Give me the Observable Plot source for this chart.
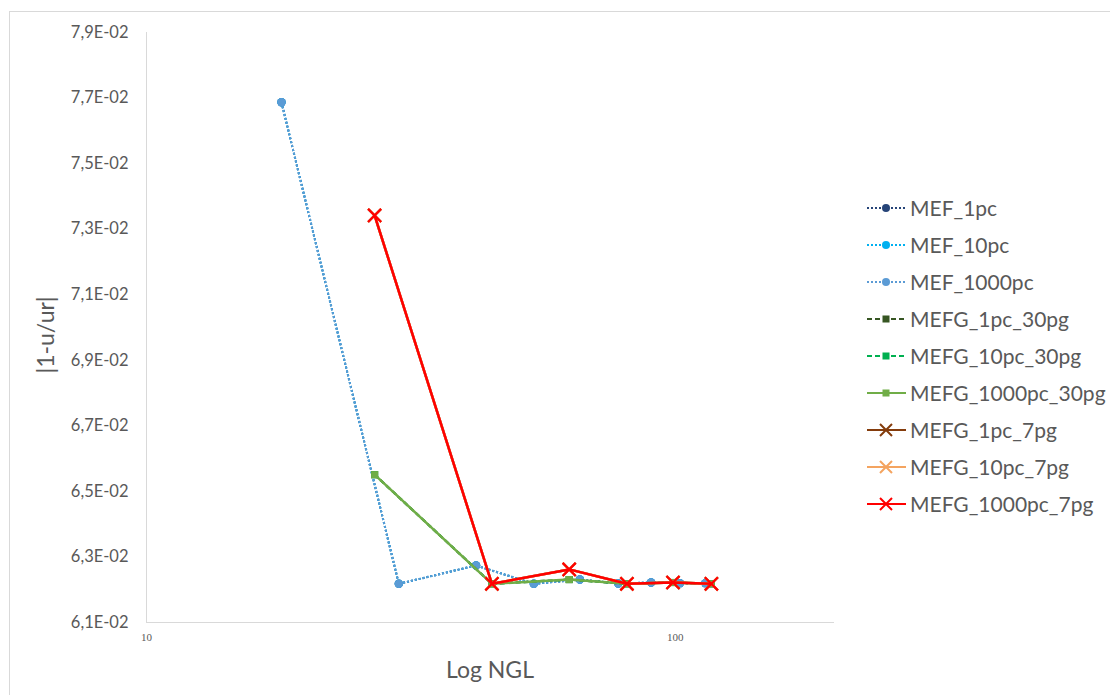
<!DOCTYPE html>
<html>
<head>
<meta charset="utf-8">
<script src="https://cdn.jsdelivr.net/npm/d3@7"></script>
<script src="https://cdn.jsdelivr.net/npm/@observablehq/plot@0.6"></script>
<style>
  html, body { margin: 0; padding: 0; background: #fff; }
  #wrap { position: relative; width: 1110px; height: 695px; overflow: hidden; font-family: Lato, "Open Sans", sans-serif; }
  #frame { position: absolute; left: 9px; top: 11px; width: 1120px; height: 720px; border: 1px solid #D9D9D9; box-sizing: border-box; }
  #chart { position: absolute; left: 0; top: 0; }
  .title { position: absolute; color: #595959; font-size: 23px; white-space: nowrap; }
  #ytitle { left: 45px; top: 335px; transform: translate(-50%, -50%) rotate(-90deg); }
  #xtitle { left: 490px; top: 669px; transform: translate(-50%, -50%); }
  #legend { position: absolute; left: 866px; top: 189px; }
  .row { display: flex; align-items: center; height: 37px; }
  .row span { color: #595959; font-size: 21px; margin-left: 3px; white-space: nowrap; }
</style>
</head>
<body>
<div id="wrap">
  <div id="frame"></div>
  <div id="chart"></div>
  <div class="title" id="ytitle">|1-u/ur|</div>
  <div class="title" id="xtitle">Log NGL</div>
  <div id="legend"></div>
</div>
<script>
// ---- data ----
const nglMEF = [18, 30, 42, 54, 66, 78, 90, 102, 114];
const nglMEFG = [27, 45, 63, 81, 99, 117];
const errMEF_1pc    = [0.07687, 0.06218, 0.06274, 0.06218, 0.06231, 0.06219, 0.06222, 0.06220, 0.06220];
const errMEF_10pc   = [0.07687, 0.06218, 0.06274, 0.06218, 0.06231, 0.06219, 0.06222, 0.06220, 0.06220];
const errMEF_1000pc = [0.07687, 0.06218, 0.06274, 0.06218, 0.06231, 0.06219, 0.06222, 0.06220, 0.06220];
const errMEFG_1pc_30pg    = [0.06551, 0.06218, 0.06231, 0.06218, 0.06222, 0.06218];
const errMEFG_10pc_30pg   = [0.06551, 0.06218, 0.06231, 0.06218, 0.06222, 0.06218];
const errMEFG_1000pc_30pg = [0.06551, 0.06218, 0.06231, 0.06218, 0.06222, 0.06218];
const errMEFG_1pc_7pg     = [0.07342, 0.06218, 0.06262, 0.06218, 0.06222, 0.06218];
const errMEFG_10pc_7pg    = [0.07342, 0.06218, 0.06262, 0.06218, 0.06222, 0.06218];
const errMEFG_1000pc_7pg  = [0.07342, 0.06218, 0.06262, 0.06218, 0.06222, 0.06218];
const seriesNames = ["MEF_1pc", "MEF_10pc", "MEF_1000pc", "MEFG_1pc_30pg", "MEFG_10pc_30pg", "MEFG_1000pc_30pg", "MEFG_1pc_7pg", "MEFG_10pc_7pg", "MEFG_1000pc_7pg"];
const yTicks = [0.061, 0.063, 0.065, 0.067, 0.069, 0.071, 0.073, 0.075, 0.077, 0.079];
const xTicks = [10, 100];

// ---- styles ----
const styles = [
  {x: nglMEF, y: errMEF_1pc, color: "#264478", dash: "2 2", width: 2, symbol: "circle"},
  {x: nglMEF, y: errMEF_10pc, color: "#00B0F0", dash: "2 2", width: 2, symbol: "circle"},
  {x: nglMEF, y: errMEF_1000pc, color: "#5B9BD5", dash: "2 2", width: 2, symbol: "circle"},
  {x: nglMEFG, y: errMEFG_1pc_30pg, color: "#375623", dash: "5 3", width: 2.2, symbol: "square"},
  {x: nglMEFG, y: errMEFG_10pc_30pg, color: "#00B050", dash: "5 3", width: 2.2, symbol: "square"},
  {x: nglMEFG, y: errMEFG_1000pc_30pg, color: "#70AD47", dash: null, width: 2.5, symbol: "square"},
  {x: nglMEFG, y: errMEFG_1pc_7pg, color: "#843C0C", dash: null, width: 2.5, symbol: "times"},
  {x: nglMEFG, y: errMEFG_10pc_7pg, color: "#F4A460", dash: null, width: 2.5, symbol: "times"},
  {x: nglMEFG, y: errMEFG_1000pc_7pg, color: "#FF0000", dash: null, width: 2.5, symbol: "times"}
];

const fmt = d => {
  const [m, e] = d.toExponential(1).split("e");
  const ev = +e;
  return m.replace(".", ",") + "E" + (ev < 0 ? "-" : "+") + String(Math.abs(ev)).padStart(2, "0");
};

const marks = [
  Plot.ruleX([10], {stroke: "#D9D9D9", strokeWidth: 1}),
  Plot.ruleY([0.061], {stroke: "#D9D9D9", strokeWidth: 1}),
  Plot.axisY(yTicks, {tickSize: 0, tickPadding: 18, tickFormat: fmt, fontSize: 16.5, fill: "#595959", fontFamily: "Lato, sans-serif", label: null}),
  Plot.axisX(xTicks, {tickSize: 0, tickPadding: 11, tickFormat: d => String(d), fontSize: 11, fill: "#595959", fontFamily: "'Liberation Serif', 'DejaVu Serif', serif", label: null})
];

styles.forEach((s, i) => {
  const rows = s.x.map((x, j) => ({ngl: x, err: s.y[j], series: seriesNames[i]}));
  marks.push(Plot.line(rows, {x: "ngl", y: "err", stroke: s.color, strokeWidth: s.width, strokeDasharray: s.dash || undefined, strokeLinecap: "butt"}));
  if (s.symbol === "times") {
    marks.push(Plot.dot(rows, {x: "ngl", y: "err", symbol: "times", r: 6, stroke: s.color, strokeWidth: 2.2}));
  } else if (s.symbol === "square") {
    marks.push(Plot.dot(rows, {x: "ngl", y: "err", symbol: "square", r: 4, fill: s.color, stroke: "none"}));
  } else {
    marks.push(Plot.dot(rows, {x: "ngl", y: "err", symbol: "circle", r: 4.2, fill: s.color, stroke: "none"}));
  }
});

const chart = Plot.plot({
  width: 1110,
  height: 695,
  marginLeft: 146,
  marginRight: 276,
  marginTop: 32,
  marginBottom: 73,
  style: {background: "transparent", overflow: "visible"},
  x: {type: "log", domain: [10, 200]},
  y: {domain: [0.061, 0.079]},
  marks
});
document.getElementById("chart").appendChild(chart);

// ---- legend ----
const legend = document.getElementById("legend");
styles.forEach((s, i) => {
  const row = document.createElement("div");
  row.className = "row";
  let marker;
  if (s.symbol === "circle") marker = `<circle cx="20" cy="8" r="4" fill="${s.color}"/>`;
  else if (s.symbol === "square") marker = `<rect x="16.5" y="4.5" width="7" height="7" fill="${s.color}"/>`;
  else marker = `<path d="M14 2 L26 14 M26 2 L14 14" stroke="${s.color}" stroke-width="2"/>`;
  row.innerHTML = `<svg width="41" height="16"><line x1="1" y1="8" x2="40" y2="8" stroke="${s.color}" stroke-width="${s.dash ? 1.8 : 2.2}" ${s.dash ? `stroke-dasharray="${s.dash}"` : ""}/>${marker}</svg><span>${seriesNames[i]}</span>`;
  legend.appendChild(row);
});
</script>
</body>
</html>
